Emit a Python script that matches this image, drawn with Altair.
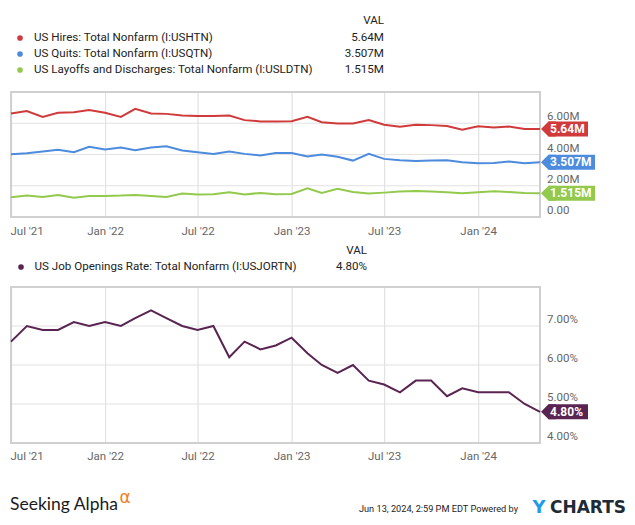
import altair as alt
import pandas as pd

# ---------------- data ----------------
month_ends = pd.date_range("2021-06-01", periods=35, freq="MS") + pd.offsets.MonthEnd(0)
dates = [d.strftime("%Y-%m-%dT00:00:00") for d in month_ends]

hires = [6.63, 6.78, 6.41, 6.67, 6.71, 6.84, 6.67, 6.41, 6.92, 6.63, 6.60, 6.50,
         6.47, 6.47, 6.50, 6.20, 6.12, 6.12, 6.13, 6.41, 6.07, 5.99, 5.99, 6.20,
         5.90, 5.77, 5.90, 5.88, 5.83, 5.58, 5.81, 5.73, 5.79, 5.64, 5.64]
quits = [4.02, 4.08, 4.19, 4.30, 4.15, 4.49, 4.32, 4.45, 4.28, 4.45, 4.53, 4.26,
         4.15, 4.04, 4.19, 4.04, 3.94, 4.10, 4.10, 3.87, 4.00, 3.85, 3.61, 4.04,
         3.72, 3.63, 3.59, 3.61, 3.63, 3.51, 3.44, 3.46, 3.55, 3.44, 3.507]
layoffs = [1.26, 1.37, 1.28, 1.41, 1.24, 1.35, 1.35, 1.37, 1.41, 1.35, 1.28, 1.50,
           1.44, 1.46, 1.58, 1.44, 1.54, 1.46, 1.47, 1.84, 1.54, 1.80, 1.60, 1.50,
           1.56, 1.63, 1.67, 1.63, 1.58, 1.52, 1.58, 1.65, 1.60, 1.54, 1.515]
openings_rate = [6.6, 7.0, 6.9, 6.9, 7.1, 7.0, 7.1, 7.0, 7.2, 7.4, 7.2, 7.0,
                 6.9, 7.0, 6.2, 6.6, 6.4, 6.5, 6.7, 6.3, 6.0, 5.8, 6.0, 5.6,
                 5.5, 5.3, 5.6, 5.6, 5.2, 5.4, 5.3, 5.3, 5.3, 5.0, 4.8]

series_names = ["US Hires: Total Nonfarm (I:USHTN)",
                "US Quits: Total Nonfarm (I:USQTN)",
                "US Layoffs and Discharges: Total Nonfarm (I:USLDTN)"]
series_vals = ["5.64M", "3.507M", "1.515M"]
series_colors = ["#d03a3a", "#4c8bdd", "#93c94c"]
openings_name = "US Job Openings Rate: Total Nonfarm (I:USJORTN)"
openings_val = "4.80%"
openings_color = "#5a2452"

tick_months = [(2021, 7), (2022, 1), (2022, 7), (2023, 1), (2023, 7), (2024, 1)]
tick_labels = ["Jul '21", "Jan '22", "Jul '22", "Jan '23", "Jul '23", "Jan '24"]
top_label_values = [0, 2, 4, 6]
top_label_texts = ["0.00", "2.00M", "4.00M", "6.00M"]
top_grid_values = [2, 4, 6]
bottom_label_values = [4, 5, 6, 7]
bottom_label_texts = ["4.00%", "5.00%", "6.00%", "7.00%"]
bottom_grid_values = [5, 6, 7]

# ---------------- layout / style ----------------
FONT = "Roboto"
LABEL_COLOR = "#666666"
TEXT_COLOR = "#222222"
GRID = "#e2e2e2"
FRAME = "#d0d0d0"
W, H = 619, 509
X0, X1 = 3, 532
TOP_Y0, TOP_Y1 = 84, 209
BOT_Y0, BOT_Y1 = 279, 435
ARROW = "M -1 0 L 0 -1 L 1 -1 L 1 1 L 0 1 Z"
LEG = 11.6
AX = 11.5

tick_df = pd.DataFrame({"d": [f"{y}-{m:02d}-01T00:00:00" for y, m in tick_months],
                        "t": tick_labels})
one = alt.Data(values=[{}])


def x_scale():
    return alt.Scale(domain=[alt.DateTime(year=2021, month=6, date=30),
                             alt.DateTime(year=2024, month=4, date=30)],
                     range=[X0, X1])


def text(t, x, y, align="left", size=LEG, color=TEXT_COLOR, weight="normal", font=FONT):
    return alt.Chart(pd.DataFrame({"t": [t]})).mark_text(
        align=align, baseline="middle", fontSize=size, color=color, fontWeight=weight, font=font
    ).encode(x=alt.value(x), y=alt.value(y), text="t:N")


def grid_layers(xs, ys, y0, y1, gvals):
    v = alt.Chart(tick_df).mark_rule(color=GRID, strokeWidth=1.2).encode(
        x=alt.X("d:T", scale=xs, axis=None), y=alt.value(y0), y2=alt.value(y1))
    h = alt.Chart(pd.DataFrame({"g": gvals})).mark_rule(color=GRID, strokeWidth=1.2).encode(
        y=alt.Y("g:Q", scale=ys, axis=None), x=alt.value(X0), x2=alt.value(X1))
    f = alt.Chart(one).mark_rect(fill="white", fillOpacity=0, stroke=FRAME, strokeWidth=2).encode(
        x=alt.value(X0), x2=alt.value(X1), y=alt.value(y0), y2=alt.value(y1))
    return [v, h, f]


def axis_labels(xs, ys, y1, lab_vals, lab_texts):
    """Tick labels drawn through the panel's own scales."""
    first = alt.Chart(tick_df.iloc[:1]).mark_text(
        align="left", baseline="middle", font=FONT, fontSize=AX, color=LABEL_COLOR, dx=-1
    ).encode(x=alt.X("d:T", scale=xs, axis=None), y=alt.value(y1 + 15), text="t:N")
    rest = alt.Chart(tick_df.iloc[1:]).mark_text(
        align="center", baseline="middle", font=FONT, fontSize=AX, color=LABEL_COLOR
    ).encode(x=alt.X("d:T", scale=xs, axis=None), y=alt.value(y1 + 15), text="t:N")
    ylab = alt.Chart(pd.DataFrame({"v": lab_vals, "t": lab_texts})).mark_text(
        align="left", baseline="alphabetic", font=FONT, fontSize=AX, color=LABEL_COLOR, dy=-3
    ).encode(y=alt.Y("v:Q", scale=ys, axis=None), x=alt.value(X1 + 7), text="t:N")
    return [first, rest, ylab]


def end_label(xs, ys, value, label, color, w):
    df = pd.DataFrame({"date": [dates[-1]], "value": [value], "label": [label]})
    x = alt.X("date:T", scale=xs, axis=None)
    y = alt.Y("value:Q", scale=ys, axis=None)
    arrow = alt.Chart(df).mark_point(shape=ARROW, filled=True, size=225, color=color,
                                     opacity=1, strokeWidth=0, xOffset=8.5).encode(x=x, y=y)
    box = alt.Chart(df).mark_rect(color=color, xOffset=8.5, x2Offset=8.5 + w,
                                  yOffset=-7.5, y2Offset=7.5).encode(
        x=x, x2=alt.X2("date:T"), y=y, y2=alt.Y2("value:Q"))
    txt = alt.Chart(df).mark_text(align="left", baseline="middle", dx=10, color="white",
                                  fontWeight="bold", font=FONT, fontSize=12).encode(
        x=x, y=y, text="label:N")
    return [arrow, box, txt]


# ---------------- top panel ----------------
xs_top = x_scale()
ys_top = alt.Scale(domain=[0, 8], range=[TOP_Y1, TOP_Y0])
top_df = pd.DataFrame({
    "date": dates * 3,
    "value": hires + quits + layoffs,
    "series": [n for n in series_names for _ in dates],
})
lines_top = alt.Chart(top_df).mark_line(strokeWidth=2).encode(
    x=alt.X("date:T", scale=xs_top, axis=None),
    y=alt.Y("value:Q", scale=ys_top, axis=None),
    color=alt.Color("series:N", scale=alt.Scale(domain=series_names, range=series_colors),
                    legend=None),
)
top_layers = grid_layers(xs_top, ys_top, TOP_Y0, TOP_Y1, top_grid_values)
top_layers += axis_labels(xs_top, ys_top, TOP_Y1, top_label_values, top_label_texts)
top_layers.append(lines_top)
last_vals = [hires[-1], quits[-1], layoffs[-1]]
box_w = [39.5, 46.5, 46.5]
for i in range(3):
    top_layers += end_label(xs_top, ys_top, last_vals[i], series_vals[i], series_colors[i], box_w[i])

# legend (top)
top_layers.append(text("VAL", 376, 13, align="right"))
for i in range(3):
    ry = 30 + 16 * i
    top_layers.append(alt.Chart(one).mark_point(filled=True, size=32, color=series_colors[i],
                                                opacity=1).encode(x=alt.value(12), y=alt.value(ry)))
    top_layers.append(text(series_names[i], 26, ry))
    top_layers.append(text(series_vals[i], 376, ry, align="right"))
top_panel = alt.layer(*top_layers)

# ---------------- bottom panel ----------------
xs_bot = x_scale()
ys_bot = alt.Scale(domain=[4, 8], range=[BOT_Y1, BOT_Y0])
bot_df = pd.DataFrame({"date": dates, "value": openings_rate})
line_bot = alt.Chart(bot_df).mark_line(strokeWidth=2, color=openings_color).encode(
    x=alt.X("date:T", scale=xs_bot, axis=None),
    y=alt.Y("value:Q", scale=ys_bot, axis=None),
)
bot_layers = grid_layers(xs_bot, ys_bot, BOT_Y0, BOT_Y1, bottom_grid_values)
bot_layers += axis_labels(xs_bot, ys_bot, BOT_Y1 - 1, bottom_label_values, bottom_label_texts)
bot_layers.append(line_bot)
bot_layers += end_label(xs_bot, ys_bot, openings_rate[-1], openings_val, openings_color, 39.5)
bot_layers.append(text("VAL", 359, 243, align="right"))
bot_layers.append(alt.Chart(one).mark_point(filled=True, size=32, color=openings_color,
                                            opacity=1).encode(x=alt.value(13), y=alt.value(259)))
bot_layers.append(text(openings_name, 26.5, 259))
bot_layers.append(text(openings_val, 359, 259, align="right"))
bottom_panel = alt.layer(*bot_layers)

# ---------------- footer ----------------
footer = [
    text("Seeking Alpha", 2, 497, size=17.5, color="#1b1b1b", font="Lato"),
    text("\u03b1", 111.5, 490, size=17, color="#f48120", font="DejaVu Sans"),
    text("Jun 13, 2024, 2:59 PM EDT Powered by", 510, 501, align="right", size=9.2),
    text("Y", 531, 499.5, align="center", size=18, color="#1e9be9", weight="bold",
         font="DejaVu Sans"),
    text("CHARTS", 542, 500, size=17, color="#1d2b36", weight="bold", font="DejaVu Sans"),
]

chart = alt.layer(top_panel, bottom_panel, *footer).resolve_scale(
    x="independent", y="independent"
).properties(
    width=W, height=H, padding=0, autosize=alt.AutoSizeParams(type="none")
).configure_view(stroke=None)

chart.save("out.html", embed_options={"renderer": "svg", "actions": False})
